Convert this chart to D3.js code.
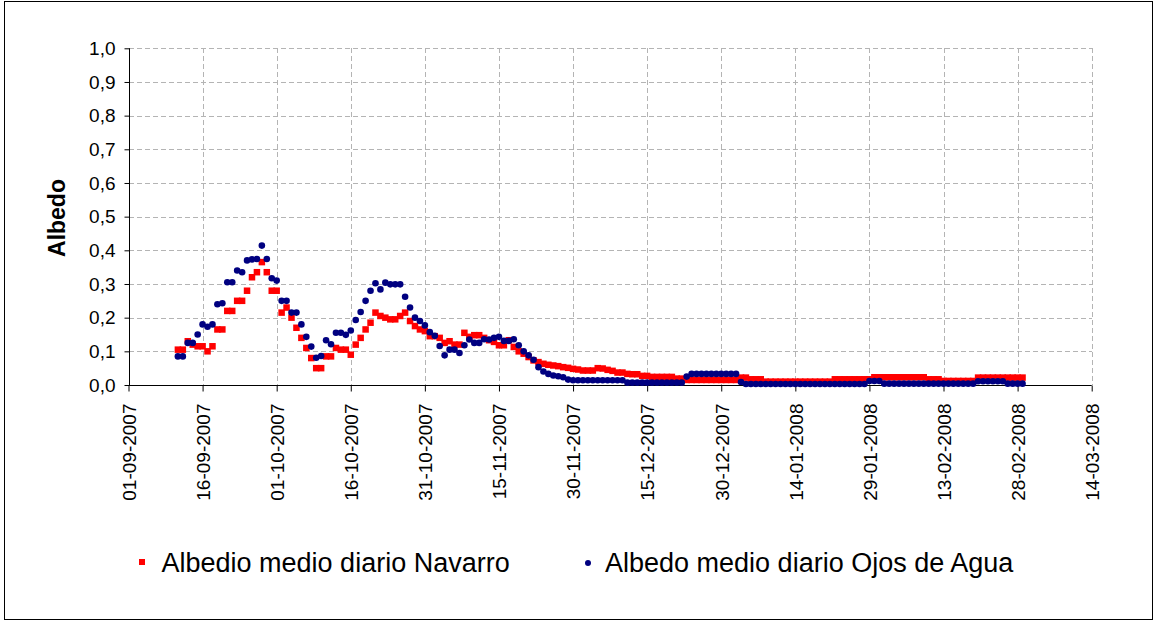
<!DOCTYPE html>
<html>
<head>
<meta charset="utf-8">
<script src="https://cdn.jsdelivr.net/npm/d3@7"></script>
<style>
  html, body { margin: 0; padding: 0; background: #fff; }
  svg { display: block; font-family: "Liberation Sans", Arial, sans-serif; }
</style>
</head>
<body>
<svg id="chart" width="1156" height="621"></svg>
<script>
// First day of both daily series (one value per consecutive day)
const firstDay = "2007-09-11";

// Albedo medio diario – Navarro (daily, from 11-09-2007 to 29-02-2008)
const navarro = [
  0.105, 0.105, 0.13, 0.12, 0.115, 0.115, 0.10, 0.115, 0.165, 0.165,
  0.22, 0.22, 0.25, 0.25, 0.28, 0.32, 0.335, 0.365, 0.335, 0.28,
  0.28, 0.215, 0.23, 0.20, 0.17, 0.14, 0.11, 0.08, 0.05, 0.05,
  0.085, 0.085, 0.11, 0.105, 0.105, 0.09, 0.12, 0.14, 0.165, 0.185,
  0.215, 0.205, 0.20, 0.195, 0.195, 0.205, 0.215, 0.19, 0.175, 0.165,
  0.16, 0.145, 0.145, 0.14, 0.125, 0.13, 0.12, 0.12, 0.155, 0.143,
  0.148, 0.148, 0.14, 0.133, 0.128, 0.118, 0.118, 0.133, 0.113, 0.10,
  0.093, 0.083, 0.073, 0.068, 0.063, 0.06, 0.058, 0.056, 0.053, 0.051,
  0.048, 0.046, 0.043, 0.043, 0.043, 0.05, 0.049, 0.045, 0.042, 0.037,
  0.037, 0.033, 0.032, 0.032, 0.027, 0.027, 0.024, 0.024, 0.024, 0.024,
  0.024, 0.019, 0.019, 0.015, 0.015, 0.015, 0.015, 0.015, 0.015, 0.015,
  0.015, 0.015, 0.015, 0.015, 0.022, 0.022, 0.017, 0.017, 0.017, 0.01,
  0.01, 0.01, 0.01, 0.01, 0.01, 0.01, 0.01, 0.01, 0.01, 0.01,
  0.01, 0.01, 0.01, 0.017, 0.017, 0.017, 0.017, 0.017, 0.017, 0.017,
  0.017, 0.023, 0.023, 0.023, 0.023, 0.023, 0.023, 0.023, 0.023, 0.023,
  0.023, 0.023, 0.017, 0.017, 0.017, 0.012, 0.012, 0.012, 0.012, 0.012,
  0.012, 0.012, 0.022, 0.022, 0.022, 0.022, 0.022, 0.022, 0.022, 0.022,
  0.022, 0.022
];

// Albedo medio diario – Ojos de Agua (same days)
const ojosDeAgua = [
  0.085, 0.085, 0.125, 0.125, 0.15, 0.18, 0.173, 0.18, 0.24, 0.243,
  0.305, 0.305, 0.34, 0.335, 0.37, 0.373, 0.374, 0.414, 0.374, 0.317,
  0.31, 0.25, 0.25, 0.215, 0.215, 0.18, 0.143, 0.114, 0.081, 0.086,
  0.133, 0.121, 0.155, 0.155, 0.149, 0.162, 0.193, 0.217, 0.25, 0.28,
  0.302, 0.284, 0.304, 0.299, 0.299, 0.299, 0.262, 0.23, 0.20, 0.19,
  0.177, 0.157, 0.146, 0.116, 0.088, 0.105, 0.105, 0.095, 0.118, 0.135,
  0.125, 0.125, 0.136, 0.135, 0.14, 0.143, 0.131, 0.131, 0.136, 0.118,
  0.10, 0.088, 0.075, 0.053, 0.04, 0.033, 0.028, 0.026, 0.023, 0.016,
  0.014, 0.014, 0.014, 0.014, 0.014, 0.014, 0.014, 0.014, 0.014, 0.014,
  0.014, 0.007, 0.007, 0.007, 0.007, 0.007, 0.007, 0.007, 0.007, 0.007,
  0.007, 0.007, 0.007, 0.025, 0.033, 0.033, 0.033, 0.033, 0.033, 0.033,
  0.033, 0.033, 0.033, 0.033, 0.009, 0.003, 0.003, 0.003, 0.003, 0.003,
  0.003, 0.003, 0.003, 0.003, 0.003, 0.003, 0.003, 0.003, 0.003, 0.003,
  0.003, 0.003, 0.003, 0.003, 0.003, 0.003, 0.003, 0.003, 0.003, 0.003,
  0.012, 0.012, 0.012, 0.004, 0.004, 0.004, 0.004, 0.004, 0.004, 0.004,
  0.004, 0.004, 0.004, 0.004, 0.004, 0.004, 0.004, 0.004, 0.004, 0.004,
  0.004, 0.004, 0.011, 0.011, 0.011, 0.011, 0.011, 0.011, 0.004, 0.004,
  0.004, 0.004
];

// Date axis tick labels (every 15 days)
const xTickLabels = [
  "01-09-2007", "16-09-2007", "01-10-2007", "16-10-2007", "31-10-2007",
  "15-11-2007", "30-11-2007", "15-12-2007", "30-12-2007", "14-01-2008",
  "29-01-2008", "13-02-2008", "28-02-2008", "14-03-2008"
];
const yTicks = [0, 0.1, 0.2, 0.3, 0.4, 0.5, 0.6, 0.7, 0.8, 0.9, 1.0];

const seriesNames = ["Albedio medio diario Navarro", "Albedo medio diario Ojos de Agua"];
const yTitle = "Albedo";

const svg = d3.select("#chart");
const parseLabel = d3.utcParse("%d-%m-%Y");
const tickDates = xTickLabels.map(parseLabel);
const start = d3.utcParse("%Y-%m-%d")(firstDay);
const dayOf = i => d3.utcDay.offset(start, i);

const plot = { left: 128.5, right: 1091.7, top: 48.3, bottom: 385 };

const x = d3.scaleUtc()
  .domain([tickDates[0], tickDates[tickDates.length - 1]])
  .range([plot.left, plot.right]);
const y = d3.scaleLinear().domain([0, 1]).range([plot.bottom, plot.top]);

// Outer frame
svg.append("rect")
  .attr("x", 4.5).attr("y", 1.5).attr("width", 1148).attr("height", 618)
  .attr("fill", "none").attr("stroke", "#000").attr("stroke-width", 1);

// Grid
const grid = svg.append("g").attr("stroke", "#b4b4b4").attr("stroke-dasharray", "5,3")
  .attr("shape-rendering", "crispEdges");
grid.selectAll("line.h").data(yTicks.slice(1)).join("line")
  .attr("x1", plot.left).attr("x2", plot.right)
  .attr("y1", d => Math.round(y(d)) + 0.5).attr("y2", d => Math.round(y(d)) + 0.5);
grid.selectAll("line.v").data(tickDates.slice(1)).join("line")
  .attr("y1", plot.top).attr("y2", plot.bottom)
  .attr("x1", d => Math.round(x(d)) + 0.5).attr("x2", d => Math.round(x(d)) + 0.5);

// Y axis
const yAxis = svg.append("g")
  .attr("transform", `translate(${Math.round(plot.left) + 0.5},0)`)
  .call(d3.axisLeft(y).tickValues(yTicks).tickSize(5).tickPadding(9)
    .tickFormat(d => d3.format(".1f")(d).replace(".", ",")));
yAxis.select(".domain").attr("d", `M0,${plot.top}V${plot.bottom}`);
yAxis.selectAll("text").attr("font-size", 19).attr("fill", "#000")
  .attr("font-family", "Liberation Sans, Arial, sans-serif");

// X axis
const xAxis = svg.append("g")
  .attr("transform", `translate(0,${Math.round(plot.bottom) + 0.5})`)
  .call(d3.axisBottom(x).tickValues(tickDates).tickSize(6)
    .tickFormat((d, i) => xTickLabels[i]));
xAxis.select(".domain").attr("d", `M${plot.left},0H${plot.right}`);
xAxis.selectAll("text")
  .attr("font-size", 19).attr("fill", "#000")
  .attr("font-family", "Liberation Sans, Arial, sans-serif")
  .attr("text-anchor", "end")
  .attr("transform", "translate(0,18) rotate(-90)")
  .attr("x", 0).attr("y", 0).attr("dy", "0.36em");

// Y axis title
svg.append("text")
  .attr("transform", "translate(65,218) rotate(-90)")
  .attr("text-anchor", "middle")
  .attr("font-size", 23).attr("font-weight", "bold")
  .text(yTitle);

// Navarro series: red squares
const sq = 6.5;
svg.append("g").selectAll("rect").data(navarro).join("rect")
  .attr("x", (d, i) => x(dayOf(i)) - sq / 2)
  .attr("y", d => y(d) - sq / 2)
  .attr("width", sq).attr("height", sq)
  .attr("fill", "#ff0000");

// Ojos de Agua series: navy circles
svg.append("g").selectAll("circle").data(ojosDeAgua).join("circle")
  .attr("cx", (d, i) => x(dayOf(i)))
  .attr("cy", d => y(d))
  .attr("r", 3.3)
  .attr("fill", "#000080");

// Legend
const legend = svg.append("g").attr("font-size", 27);
legend.append("rect").attr("x", 139).attr("y", 559).attr("width", 6).attr("height", 6).attr("fill", "#ff0000");
legend.append("text").attr("x", 161.5).attr("y", 571.5).text(seriesNames[0]);
legend.append("circle").attr("cx", 588).attr("cy", 563).attr("r", 3).attr("fill", "#000080");
legend.append("text").attr("x", 605).attr("y", 571.5).text(seriesNames[1]);
</script>
</body>
</html>
